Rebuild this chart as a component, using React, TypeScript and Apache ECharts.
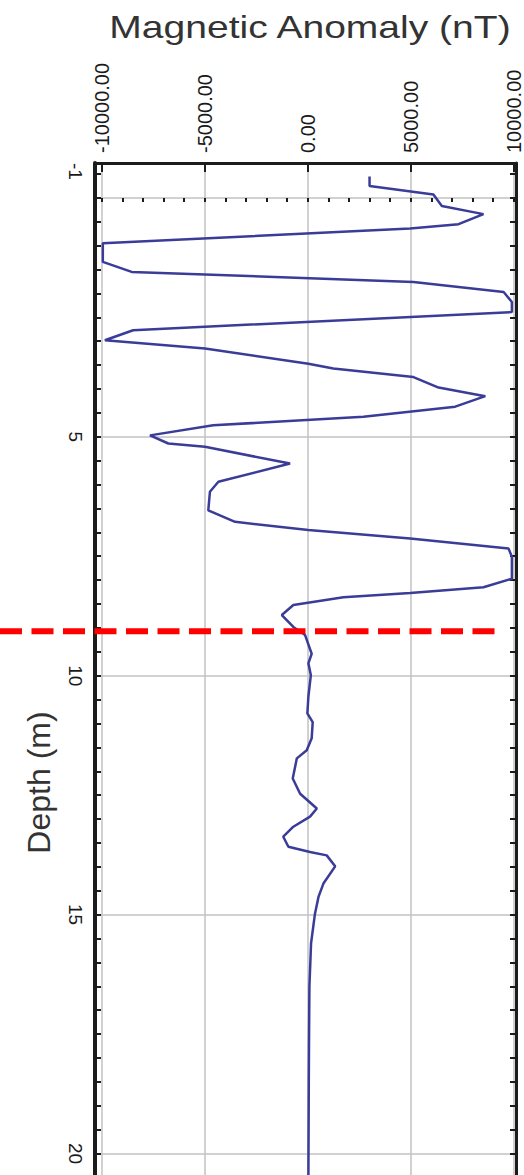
import React, { useEffect, useRef } from "react";
import * as echarts from "echarts";

// Depth (m) of each reading, top to bottom
const depthM = [
  -0.45, -0.25, -0.07, 0.17, 0.34, 0.55, 0.64, 0.95, 1.34, 1.55,
  1.76, 1.97, 2.18, 2.39, 2.77, 2.98, 3.15, 3.47, 3.57, 3.75,
  3.97, 4.15, 4.37, 4.58, 4.76, 4.97, 5.14, 5.21, 5.56, 5.94,
  6.15, 6.54, 6.78, 6.95, 7.13, 7.34, 7.51, 7.97, 8.15, 8.27,
  8.36, 8.52, 8.73, 8.98, 9.15, 9.54, 9.74, 9.99, 10.44, 10.79,
  10.97, 11.31, 11.56, 11.73, 12.15, 12.47, 12.78, 12.95, 13.16, 13.37,
  13.58, 13.69, 13.76, 13.99, 14.35, 14.63, 14.98, 15.6, 16.51, 17.7,
  18.5, 20.6,
];

// Magnetic anomaly (nT) at each depth
const anomalyNT = [
  3000, 3000, 6100, 6510, 8530, 7320, 4970, -9950, -9950, -8550,
  5130, 9510, 9910, 9910, -8480, -9850, -4990, 30, 1240, 5130,
  6350, 8620, 7160, 2700, -4590, -7660, -6770, -4990, -860, -4340,
  -4750, -4830, -3530, 30, 4970, 9750, 9910, 9910, 8530, 4970,
  1730, -700, -1260, -700, -130, 190, 30, 150, 30, -20,
  240, 190, -50, -530, -730, -370, 440, 110, -700, -1190,
  -940, 110, 920, 1330, 760, 520, 350, 160, 80, 60,
  50, 30,
];

const xMajorTicks = [-10000, -5000, 0, 5000, 10000];
const yMajorTicks = [0, 5, 10, 15, 20, 25];
const yLabelTicks = [5, 10, 15, 20];
const boundaryDepth = 9.07;

const X_MIN = -10330;
const X_MAX = 10110;
const Y_MIN = -0.73;
const Y_MAX = 25.2;

const FONT = "'Liberation Sans', Arial, Helvetica, sans-serif";
const FRAME = "#1c1c1c";
const GRID = "#c2c2c2";

function steps(from: number, to: number, step: number): number[] {
  const out: number[] = [];
  const n = Math.round((to - from) / step);
  for (let i = 0; i <= n; i++) out.push(Math.round((from + i * step) * 1000) / 1000);
  return out;
}

const xMinorTicks = steps(-10000, 10000, 1000);
const yMinorTicks = steps(-0.5, 25, 0.5);

export default function App() {
  const ref = useRef<HTMLDivElement>(null);

  useEffect(() => {
    if (!ref.current) return;
    const chart = echarts.init(ref.current, null, { renderer: "svg" });
    const points = depthM.map((d, i) => [anomalyNT[i], d]);

    const yBase = {
      type: "value",
      inverse: true,
      min: Y_MIN,
      max: Y_MAX,
    };

    const titleGraphic = {
      type: "text",
      x: 310,
      y: 27,
      scaleX: 1.22,
      style: {
        text: "Magnetic Anomaly (nT)",
        fontSize: 32,
        fontFamily: FONT,
        fill: "#333",
        textAlign: "center",
        textVerticalAlign: "middle",
      },
    };

    chart.setOption({
      animation: false,
      backgroundColor: "#ffffff",
      grid: { left: 95, right: 8, top: 163, height: 1239 },
      xAxis: [
        {
          type: "value",
          position: "top",
          min: X_MIN,
          max: X_MAX,
          axisLine: { show: true, onZero: false, lineStyle: { color: FRAME, width: 3 } },
          axisTick: {
            show: true,
            inside: true,
            length: 9,
            customValues: xMajorTicks,
            lineStyle: { color: FRAME, width: 2 },
          },
          axisLabel: {
            customValues: xMajorTicks,
            rotate: -90,
            margin: 10,
            fontSize: 20,
            fontFamily: FONT,
            color: "#1a1a1a",
            formatter: (v: number) => v.toFixed(2),
          },
          splitLine: { show: true, lineStyle: { color: GRID, width: 1.5 } },
        },
        {
          type: "value",
          position: "top",
          min: X_MIN,
          max: X_MAX,
          axisLine: { show: false },
          axisTick: {
            show: true,
            inside: true,
            length: 4,
            customValues: xMinorTicks,
            lineStyle: { color: FRAME, width: 2 },
          },
          axisLabel: { show: false },
          splitLine: { show: false },
        },
      ],
      yAxis: [
        {
          ...yBase,
          position: "left",
          name: "Depth (m)",
          nameLocation: "middle",
          nameRotate: 90,
          nameGap: 40,
          nameTextStyle: { fontSize: 32, fontFamily: FONT, color: "#333" },
          axisLine: { show: true, onZero: false, lineStyle: { color: FRAME, width: 4 } },
          axisTick: {
            show: true,
            inside: true,
            length: 6,
            customValues: yMinorTicks,
            lineStyle: { color: FRAME, width: 2 },
          },
          axisLabel: {
            customValues: [Y_MIN, ...yLabelTicks],
            rotate: -90,
            margin: 10,
            fontSize: 19,
            fontFamily: FONT,
            color: "#1a1a1a",
            alignMinLabel: "left",
            formatter: (v: number) => String(Math.round(v)),
          },
          splitLine: { show: false },
        },
        {
          ...yBase,
          position: "right",
          axisLine: { show: true, onZero: false, lineStyle: { color: FRAME, width: 3 } },
          axisTick: {
            show: true,
            inside: true,
            length: 6,
            customValues: yMinorTicks,
            lineStyle: { color: FRAME, width: 2 },
          },
          axisLabel: { show: false },
          splitLine: { show: false },
        },
        {
          ...yBase,
          position: "left",
          axisLine: { show: false },
          axisTick: { show: false, customValues: yMajorTicks },
          axisLabel: { show: false },
          splitLine: { show: true, lineStyle: { color: GRID, width: 1.5 } },
        },
      ],
      series: [
        {
          type: "line",
          xAxisIndex: 0,
          yAxisIndex: 0,
          data: points,
          showSymbol: false,
          symbol: "none",
          lineStyle: { color: "#3a3c98", width: 2.5 },
          z: 5,
        },
      ],
      graphic: [titleGraphic],
    });

    const py = chart.convertToPixel({ yAxisIndex: 0 }, boundaryDepth) as number;
    chart.setOption({
      graphic: [
        titleGraphic,
        {
          type: "line",
          z: 100,
          shape: { x1: 0, y1: py, x2: 502, y2: py },
          style: { stroke: "#ff0000", lineWidth: 6, lineDash: [22, 9.5] },
        },
      ],
    });

    return () => chart.dispose();
  }, []);

  return (
    <div
      style={{
        position: "absolute",
        left: 0,
        top: 0,
        width: 524,
        height: 1175,
        overflow: "hidden",
        background: "#fff",
      }}
    >
      <div ref={ref} style={{ width: 524, height: 1420 }} />
    </div>
  );
}
